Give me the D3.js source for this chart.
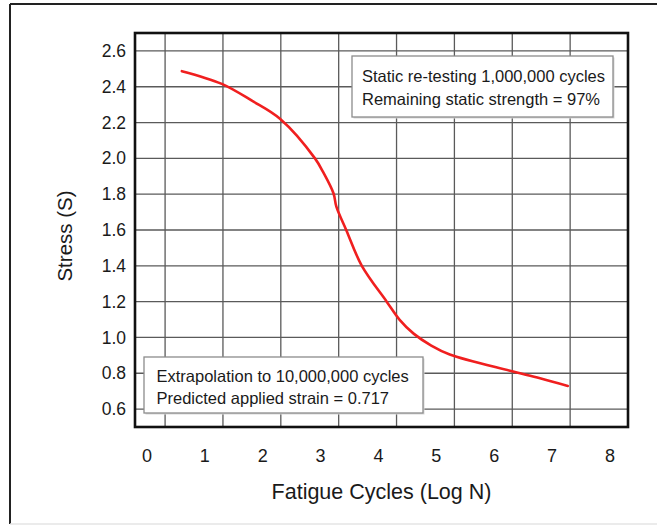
<!DOCTYPE html>
<html>
<head>
<meta charset="utf-8">
<script src="https://cdn.jsdelivr.net/npm/d3@7"></script>
<style>
  body { margin: 0; background: #fff; }
  text { font-family: "Liberation Sans", Arial, sans-serif; fill: #1a1a1a; }
</style>
</head>
<body>
<div class="canvas"></div>
<script>
// data
const logN   = [0.29, 0.98, 1.5, 1.99, 2.59, 2.73, 2.91, 2.96, 3.13, 3.4, 3.83, 4.05, 4.3, 4.6, 4.92, 5.96, 6.48, 6.96];
const stress = [2.487, 2.416, 2.322, 2.22, 2.0, 1.924, 1.805, 1.73, 1.6, 1.4, 1.2, 1.1, 1.02, 0.955, 0.905, 0.814, 0.772, 0.729];

const xTicks = [0, 1, 2, 3, 4, 5, 6, 7, 8];
const yTicks = [0.6, 0.8, 1.0, 1.2, 1.4, 1.6, 1.8, 2.0, 2.2, 2.4, 2.6];

const noteTop    = ['Static re-testing 1,000,000 cycles', 'Remaining static strength = 97%'];
const noteBottom = ['Extrapolation to 10,000,000 cycles', 'Predicted applied strain = 0.717'];

const dims = { width: 657, height: 526 };
const plot = { left: 135, right: 628, top: 33, bottom: 427 };

const svg = d3.select('.canvas')
    .append('svg')
    .attr('width', dims.width)
    .attr('height', dims.height);

// outer frame
svg.append('line').attr('x1', 10).attr('x2', 10).attr('y1', 4).attr('y2', 524)
    .attr('stroke', '#222').attr('stroke-width', 2);
svg.append('line').attr('x1', 10).attr('x2', dims.width).attr('y1', 4).attr('y2', 4)
    .attr('stroke', '#222').attr('stroke-width', 2);
svg.append('line').attr('x1', 10).attr('x2', dims.width).attr('y1', 524).attr('y2', 524)
    .attr('stroke', '#e4e4e4').attr('stroke-width', 1.5);

const x = d3.scaleLinear().domain([-0.52, 8]).range([plot.left, plot.right]);
const y = d3.scaleLinear().domain([0.5, 2.7]).range([plot.bottom, plot.top]);

// grid
const grid = svg.append('g');
grid.selectAll('line.v')
    .data(xTicks.filter(d => d < 8))
    .enter().append('line')
    .attr('class', 'v')
    .attr('x1', d => x(d)).attr('x2', d => x(d))
    .attr('y1', plot.top).attr('y2', plot.bottom)
    .attr('stroke', '#5a5a5a').attr('stroke-width', 1.3);
grid.selectAll('line.h')
    .data(yTicks)
    .enter().append('line')
    .attr('class', 'h')
    .attr('x1', plot.left).attr('x2', plot.right)
    .attr('y1', d => y(d)).attr('y2', d => y(d))
    .attr('stroke', '#5a5a5a').attr('stroke-width', 1.3);

// axes (labels only, the frame is drawn below)
const xAxis = d3.axisBottom(x).tickValues(xTicks).tickSize(0).tickPadding(0);
const gx = svg.append('g')
    .attr('transform', `translate(0,${plot.bottom})`)
    .call(xAxis);
gx.select('.domain').remove();
gx.selectAll('text')
    .attr('dx', -18.6)
    .attr('y', 35)
    .attr('dy', 0)
    .attr('font-size', 18)
    .style('font-family', '"Liberation Sans", Arial, sans-serif')
    .attr('fill', '#1a1a1a');

const yAxis = d3.axisLeft(y).tickValues(yTicks).tickSize(0).tickPadding(9)
    .tickFormat(d3.format('.1f'));
const gy = svg.append('g')
    .attr('transform', `translate(${plot.left},0)`)
    .call(yAxis);
gy.select('.domain').remove();
gy.selectAll('text')
    .attr('font-size', 17.5)
    .style('font-family', '"Liberation Sans", Arial, sans-serif')
    .attr('fill', '#1a1a1a');

// annotation boxes
const addNote = (lines, bx, by, bw, bh, pad, base) => {
    const g = svg.append('g').attr('transform', `translate(${bx},${by})`);
    g.append('rect')
        .attr('x', 1.5).attr('y', 1.5)
        .attr('width', bw).attr('height', bh)
        .attr('fill', '#d8d8d8');
    g.append('rect')
        .attr('width', bw).attr('height', bh)
        .attr('fill', '#fff')
        .attr('stroke', '#8c8c8c').attr('stroke-width', 1.3);
    g.selectAll('text')
        .data(lines)
        .enter().append('text')
        .attr('x', pad)
        .attr('y', (d, i) => base + i * 22.5)
        .attr('font-size', 16.5)
        .text(d => d);
};
addNote(noteTop, 352, 56, 261, 61, 10, 26);
addNote(noteBottom, 144, 357, 279, 56, 12.5, 24.5);

// curve
const line = d3.line()
    .x((d, i) => x(logN[i]))
    .y(d => y(d))
    .curve(d3.curveCatmullRom);

svg.append('path')
    .datum(stress)
    .attr('d', line)
    .attr('fill', 'none')
    .attr('stroke', '#f01f1f')
    .attr('stroke-width', 2.6)
    .attr('stroke-linecap', 'round');

// plot border
svg.append('rect')
    .attr('x', plot.left).attr('y', plot.top)
    .attr('width', plot.right - plot.left)
    .attr('height', plot.bottom - plot.top)
    .attr('fill', 'none')
    .attr('stroke', '#111')
    .attr('stroke-width', 2.6);

// titles
svg.append('text')
    .attr('x', (plot.left + plot.right) / 2)
    .attr('y', 499)
    .attr('text-anchor', 'middle')
    .attr('font-size', 21.5)
    .text('Fatigue Cycles (Log N)');

svg.append('text')
    .attr('transform', `translate(72,${236}) rotate(-90)`)
    .attr('text-anchor', 'middle')
    .attr('font-size', 20.5)
    .text('Stress (S)');
</script>
</body>
</html>
